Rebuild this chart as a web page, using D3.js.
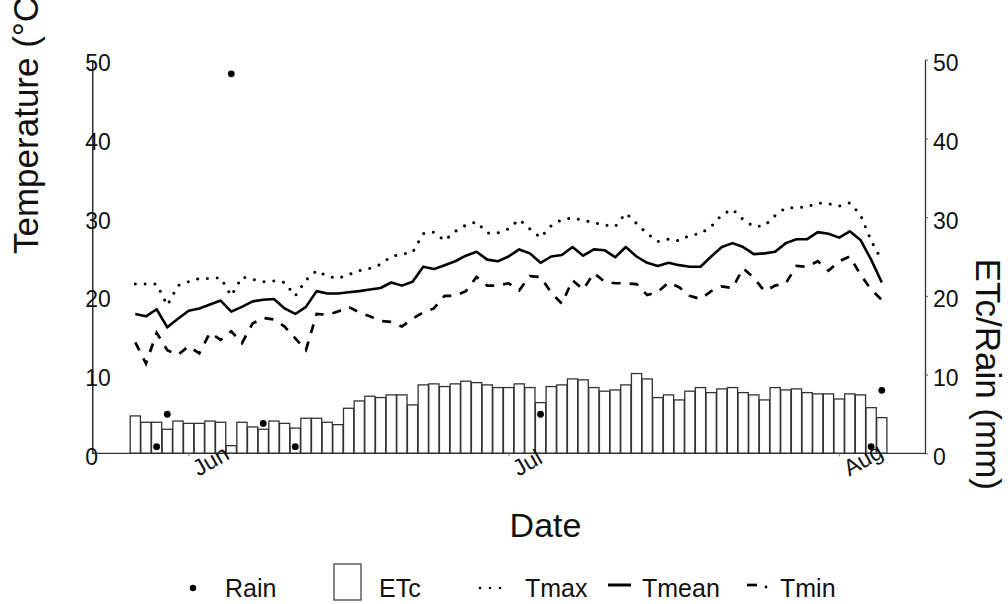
<!DOCTYPE html>
<html>
<head>
<meta charset="utf-8">
<script src="https://cdn.jsdelivr.net/npm/d3@7"></script>
<style>
  body { margin: 0; background: #fff; }
  svg { display: block; font-family: "Liberation Sans", Arial, sans-serif; }
</style>
</head>
<body>
<div id="chart"></div>
<script>
var width = 1008;
var height = 604;

// daily values, 27 May .. 5 Aug
var startDay = Date.UTC(2019, 4, 27);
var endDay = Date.UTC(2019, 7, 6);

var etc = [4.75, 3.94, 3.94, 3.05, 4.1, 3.8, 3.8, 4.1, 3.94, 0.97,
  3.94, 3.35, 3.05, 4.1, 3.8, 3.2, 4.45, 4.45, 3.94, 3.64,
  5.72, 6.65, 7.25, 7.08, 7.42, 7.42, 6.15, 8.69, 8.82, 8.48,
  8.82, 9.16, 8.98, 8.69, 8.35, 8.35, 8.82, 8.35, 6.44, 8.48,
  8.69, 9.45, 9.33, 8.35, 7.89, 8.05, 8.69, 10.13, 9.45, 7.08,
  7.42, 6.78, 7.89, 8.35, 7.71, 8.18, 8.35, 7.71, 7.42, 6.78,
  8.35, 8.05, 8.18, 7.71, 7.55, 7.55, 6.9, 7.55, 7.42, 5.8, 4.53];

var tmax = [21.5, 21.5, 21.5, 18.8, 21.3, 21.8, 22.2, 22.2, 22.3, 20.0,
  22.4, 22.1, 21.8, 21.9, 21.7, 20.0, 22.0, 23.2, 22.5, 22.2,
  22.7, 23.2, 23.5, 24.0, 25.0, 25.3, 25.5, 27.9, 28.1, 27.0,
  28.2, 29.0, 29.4, 28.0, 28.0, 28.5, 29.7, 28.5, 27.4, 28.9,
  29.7, 29.9, 29.6, 29.3, 29.0, 28.8, 30.5, 29.2, 27.9, 26.9,
  27.2, 27.0, 27.7, 27.9, 28.8, 30.3, 31.0, 29.7, 28.8, 28.9,
  30.2, 31.2, 31.2, 31.3, 31.8, 31.7, 31.4, 31.8, 30.3, 27.0, 24.5];

var tmean = [17.7, 17.4, 18.3, 16.0, 17.1, 18.1, 18.4, 18.9, 19.4, 18.0,
  18.6, 19.3, 19.5, 19.6, 18.4, 17.7, 18.6, 20.6, 20.3, 20.3,
  20.45, 20.6, 20.8, 21.0, 21.7, 21.3, 21.8, 23.7, 23.4, 23.9,
  24.4, 25.1, 25.6, 24.6, 24.4, 25.0, 25.9, 25.4, 24.2, 25.0,
  25.2, 26.2, 25.1, 25.9, 25.8, 24.9, 26.2, 25.0, 24.2, 23.8,
  24.2, 23.9, 23.7, 23.7, 25.0, 26.2, 26.7, 26.2, 25.3, 25.4,
  25.6, 26.7, 27.2, 27.2, 28.1, 27.9, 27.4, 28.2, 27.1, 24.6, 21.7];

var tmin = [14.1, 11.4, 15.3, 13.1, 12.5, 13.6, 12.7, 15.3, 14.4, 15.5,
  14.0, 16.5, 17.2, 17.0, 16.1, 14.6, 13.1, 17.7, 17.6, 18.0,
  18.6, 17.9, 17.4, 16.8, 16.7, 16.1, 17.1, 17.9, 18.4, 20.0,
  20.0, 20.6, 22.4, 21.3, 21.3, 21.6, 20.7, 22.5, 22.4, 20.4,
  19.0, 22.0, 20.8, 22.9, 21.8, 21.6, 21.6, 21.5, 20.1, 20.5,
  21.7, 21.1, 20.0, 19.6, 20.6, 21.2, 21.0, 23.5, 22.3, 20.6,
  21.3, 21.6, 23.8, 23.7, 24.4, 23.2, 24.4, 25.0, 22.7, 20.8, 19.5];

var rainDays = ["2019-05-29", "2019-05-30", "2019-06-05", "2019-06-08",
  "2019-06-11", "2019-07-04", "2019-08-04", "2019-08-05"];
var rainValues = [0.84, 4.96, 48.2, 3.8, 0.84, 4.96, 0.84, 8.0];

var monthTicks = ["2019-06-01", "2019-07-01", "2019-08-01"];
var yTicks = [0, 10, 20, 30, 40, 50];

var days = d3.utcDay.range(startDay, endDay);
var parseDay = d3.utcParse("%Y-%m-%d");

var svg = d3.select("#chart")
  .append("svg")
  .attr("width", width)
  .attr("height", height);

var xScale = d3.scaleUtc()
  .domain([days[0], days[days.length - 1]])
  .range([135.3, 881.8]);

var yScale = d3.scaleLinear()
  .domain([0, 50])
  .range([453.3, 59.7]);

var axisLeftX = 92.3;
var axisRightX = 925;

// ETc bars
svg.append("g")
  .selectAll("rect")
  .data(days)
  .join("rect")
  .attr("x", (d) => xScale(d) - 5.1)
  .attr("width", 10.2)
  .attr("y", (d, i) => yScale(etc[i]))
  .attr("height", (d, i) => yScale(0) - yScale(etc[i]))
  .attr("fill", "#fff")
  .attr("stroke", "#333")
  .attr("stroke-width", 1.3);

// baseline
svg.append("line")
  .attr("x1", axisLeftX)
  .attr("x2", axisRightX)
  .attr("y1", yScale(0))
  .attr("y2", yScale(0))
  .attr("stroke", "#333")
  .attr("stroke-width", 1.3);

// x axis
var xAxis = d3.axisBottom(xScale)
  .tickValues(monthTicks.map(parseDay))
  .tickSize(3)
  .tickFormat(d3.utcFormat("%b"));

var xg = svg.append("g")
  .attr("transform", `translate(0, ${yScale(0)})`)
  .call(xAxis);
xg.select(".domain").remove();
xg.selectAll(".tick line").attr("stroke", "#777");
xg.selectAll(".tick text")
  .attr("y", 0)
  .attr("dy", 0)
  .attr("text-anchor", "start")
  .attr("transform", "translate(9.5, 23.5) rotate(-30)")
  .style("font-size", "23px")
  .attr("fill", "#111");

// left axis
var lg = svg.append("g")
  .attr("transform", `translate(${axisLeftX}, 0)`)
  .call(d3.axisLeft(yScale).tickValues(yTicks).tickSize(0));
lg.select(".domain").attr("stroke", "#111").attr("stroke-width", 1.3);
lg.selectAll(".tick text")
  .attr("x", -7)
  .attr("y", 11)
  .attr("dy", 0)
  .attr("text-anchor", "start")
  .style("font-size", "23px")
  .attr("fill", "#111");

// right axis
var rg = svg.append("g")
  .attr("transform", `translate(${axisRightX}, 0)`)
  .call(d3.axisRight(yScale).tickValues(yTicks).tickSize(3).tickSizeOuter(0));
rg.select(".domain").attr("stroke", "#333").attr("stroke-width", 1.3);
rg.selectAll(".tick line").attr("stroke", "#555");
rg.selectAll(".tick text")
  .attr("x", 8)
  .attr("y", 11)
  .attr("dy", 0)
  .style("font-size", "23px")
  .attr("fill", "#111");

// temperature lines
function tempLine(values) {
  return d3.line()
    .x((d) => xScale(d))
    .y((d, i) => yScale(values[i]))(days);
}

svg.append("path")
  .attr("d", tempLine(tmax))
  .attr("fill", "none")
  .attr("stroke", "#000")
  .attr("stroke-width", 3)
  .attr("stroke-linecap", "round")
  .attr("stroke-dasharray", "0.01 9.8");

svg.append("path")
  .attr("d", tempLine(tmin))
  .attr("fill", "none")
  .attr("stroke", "#000")
  .attr("stroke-width", 2.7)
  .attr("stroke-dasharray", "9 9");

svg.append("path")
  .attr("d", tempLine(tmean))
  .attr("fill", "none")
  .attr("stroke", "#000")
  .attr("stroke-width", 2.6)
  .attr("stroke-linejoin", "round");

// rain dots
svg.append("g")
  .selectAll("circle")
  .data(rainDays)
  .join("circle")
  .attr("cx", (d) => xScale(parseDay(d)))
  .attr("cy", (d, i) => yScale(rainValues[i]))
  .attr("r", 3.4)
  .attr("fill", "#000");

// axis titles (the left one runs off the top edge, as in the original)
svg.append("text")
  .attr("transform", "translate(37.5, 254) rotate(-90)")
  .style("font-size", "35px")
  .attr("fill", "#111")
  .text("Temperature (°C)");

svg.append("text")
  .attr("transform", "translate(976, 490) rotate(90)")
  .attr("text-anchor", "end")
  .style("font-size", "35px")
  .attr("fill", "#111")
  .text("ETc/Rain (mm)");

svg.append("text")
  .attr("x", 545.5)
  .attr("y", 537.3)
  .attr("text-anchor", "middle")
  .style("font-size", "34px")
  .attr("fill", "#111")
  .text("Date");

// legend
var legendY = 597;
var legend = svg.append("g");

legend.append("circle")
  .attr("cx", 193).attr("cy", legendY - 9).attr("r", 3.2).attr("fill", "#000");
legend.append("rect")
  .attr("x", 334).attr("y", 564).attr("width", 27).attr("height", 36)
  .attr("fill", "#fff").attr("stroke", "#444").attr("stroke-width", 1.3);
legend.append("line")
  .attr("x1", 480).attr("x2", 506).attr("y1", legendY - 9).attr("y2", legendY - 9)
  .attr("stroke", "#000").attr("stroke-width", 2.6)
  .attr("stroke-linecap", "round").attr("stroke-dasharray", "0.01 10");
legend.append("line")
  .attr("x1", 608).attr("x2", 631).attr("y1", legendY - 12).attr("y2", legendY - 12)
  .attr("stroke", "#000").attr("stroke-width", 3);
legend.append("line")
  .attr("x1", 747).attr("x2", 757).attr("y1", legendY - 12).attr("y2", legendY - 12)
  .attr("stroke", "#000").attr("stroke-width", 2.7);
legend.append("circle")
  .attr("cx", 766).attr("cy", legendY - 10).attr("r", 1.4).attr("fill", "#000");

var legendLabels = [["Rain", 225], ["ETc", 379], ["Tmax", 525], ["Tmean", 642], ["Tmin", 780]];
legend.selectAll("text.lab")
  .data(legendLabels)
  .join("text")
  .attr("class", "lab")
  .attr("x", (d) => d[1])
  .attr("y", legendY)
  .style("font-size", "25px")
  .attr("fill", "#111")
  .text((d) => d[0]);
</script>
</body>
</html>
